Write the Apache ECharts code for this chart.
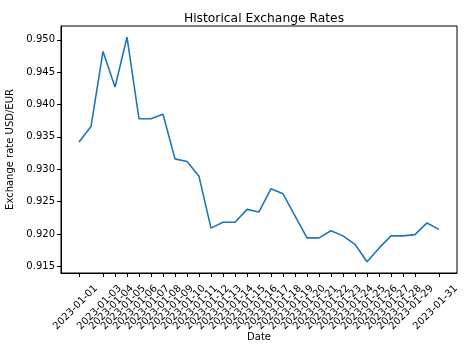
<!DOCTYPE html>
<html>
<head>
<meta charset="utf-8">
<script src="https://cdn.jsdelivr.net/npm/echarts@6/dist/echarts.min.js"></script>
<style>
html,body{margin:0;padding:0;background:#fff;}
#chart{width:474px;height:356px;}
</style>
</head>
<body>
<div id="chart"></div>
<script>
const dates = [
  "2023-01-01","2023-01-02","2023-01-03","2023-01-04","2023-01-05","2023-01-06","2023-01-07","2023-01-08",
  "2023-01-09","2023-01-10","2023-01-11","2023-01-12","2023-01-13","2023-01-14","2023-01-15","2023-01-16",
  "2023-01-17","2023-01-18","2023-01-19","2023-01-20","2023-01-21","2023-01-22","2023-01-23","2023-01-24",
  "2023-01-25","2023-01-26","2023-01-27","2023-01-28","2023-01-29","2023-01-30","2023-01-31"
];
const rates = [
  0.9342, 0.9366, 0.9482, 0.9427, 0.9504, 0.9378, 0.9378, 0.9385,
  0.9316, 0.9312, 0.9289, 0.9209, 0.9218, 0.9218, 0.9238, 0.9234,
  0.9270, 0.9262, 0.9228, 0.9194, 0.9194, 0.9205, 0.9197, 0.9184,
  0.9157, 0.9178, 0.9197, 0.9197, 0.9199, 0.9217, 0.9207
];
const yTicks = [0.915, 0.920, 0.925, 0.930, 0.935, 0.940, 0.945, 0.950];

const idx = dates.map((d, i) => i);
const FONT = "DejaVu Sans";
const chart = echarts.init(document.getElementById('chart'), null, {renderer: 'canvas'});
const ymin = Math.min(...rates), ymax = Math.max(...rates), pad = (ymax - ymin) * 0.05;
const xpad = (dates.length - 1) * 0.05;
chart.setOption({
  animation: false,
  backgroundColor: '#fff',
  textStyle: {fontFamily: FONT},
  title: {
    text: 'Historical Exchange Rates',
    left: 259, top: 8, textAlign: 'center',
    textStyle: {fontFamily: FONT, fontSize: 12.3, fontWeight: 'normal', color: '#000'}
  },
  grid: {
    left: 61, top: 26, right: 17, bottom: 83,
    containLabel: false, outerBoundsMode: 'none',
    show: true, borderColor: '#000', borderWidth: 1, backgroundColor: 'transparent'
  },
  xAxis: {
    type: 'value',
    min: -xpad, max: dates.length - 1 + xpad,
    name: 'Date', nameLocation: 'middle', nameGap: 59, nameMoveOverlap: false,
    nameTextStyle: {fontFamily: FONT, fontSize: 10, color: '#000', verticalAlign: 'top'},
    axisLine: {show: true, onZero: false, lineStyle: {color: '#000', width: 1}},
    axisTick: {show: true, length: 4, lineStyle: {color: '#000'}, customValues: idx},
    axisLabel: {
      show: true, rotate: 45, fontFamily: FONT, fontSize: 10, color: '#000', margin: 31,
      align: 'center', verticalAlign: 'middle', padding: [0, 10, 0, 0],
      hideOverlap: false, showMinLabel: true, showMaxLabel: true,
      customValues: idx,
      formatter: v => dates[Math.round(v)] || ''
    },
    splitLine: {show: false}
  },
  yAxis: {
    type: 'value',
    min: ymin - pad, max: ymax + pad,
    name: 'Exchange rate USD/EUR', nameLocation: 'middle', nameGap: 44,
    nameTextStyle: {fontFamily: FONT, fontSize: 10, color: '#000'},
    axisLine: {show: true, onZero: false, lineStyle: {color: '#000', width: 1}},
    axisTick: {show: true, length: 4, lineStyle: {color: '#000'}, customValues: yTicks},
    axisLabel: {
      show: true, fontFamily: FONT, fontSize: 10, color: '#000', margin: 6,
      customValues: yTicks,
      formatter: v => v.toFixed(3)
    },
    splitLine: {show: false}
  },
  series: [{
    type: 'line',
    data: rates.map((r, i) => [i, r]),
    showSymbol: false,
    lineStyle: {color: '#1f77b4', width: 1.6},
    itemStyle: {color: '#1f77b4'}
  }]
});
</script>
</body>
</html>
